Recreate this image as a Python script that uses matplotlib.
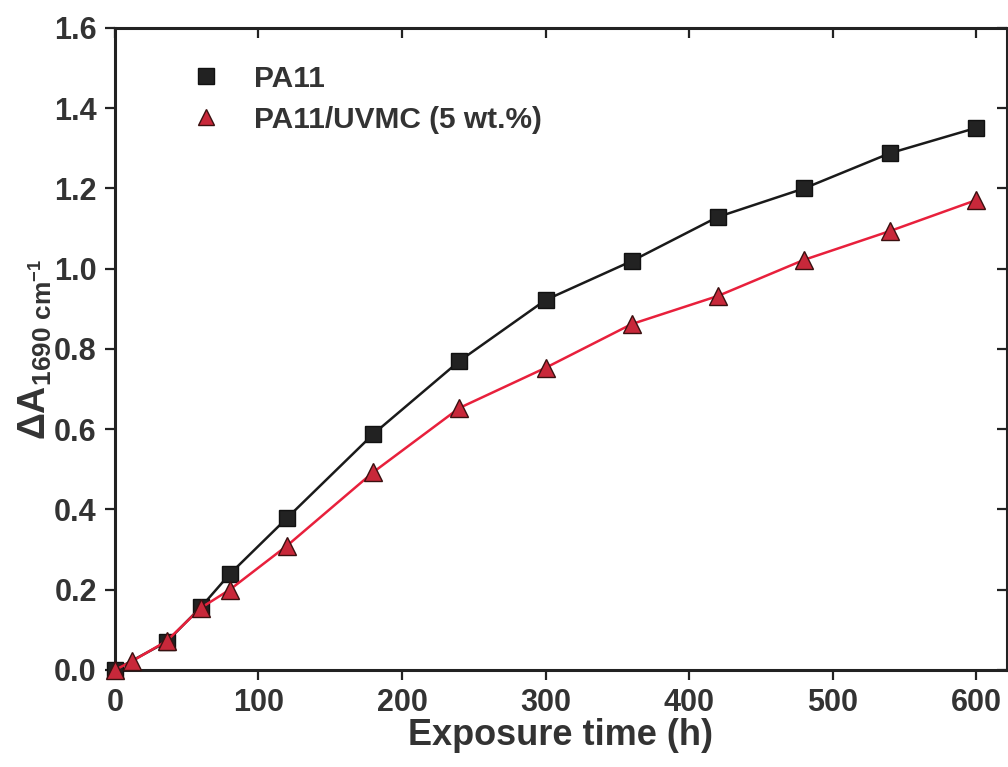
import matplotlib
matplotlib.use("Agg")
import matplotlib.pyplot as plt
from matplotlib.lines import Line2D

plt.rcParams['font.family'] = ['Liberation Sans', 'DejaVu Sans']
plt.rcParams['font.weight'] = 'bold'
plt.rcParams['axes.labelweight'] = 'bold'
plt.rcParams['mathtext.fontset'] = 'custom'
plt.rcParams['mathtext.rm'] = 'Liberation Sans:bold'
plt.rcParams['mathtext.it'] = 'Liberation Sans:bold'
plt.rcParams['mathtext.bf'] = 'Liberation Sans:bold'

# exposure times (h) and absorbance change at 1690 cm-1
time_pa11 = [0, 36, 60, 80, 120, 180, 240, 300, 360, 420, 480, 540, 600]
dA_pa11 = [0.0, 0.07, 0.157, 0.239, 0.379, 0.588, 0.77, 0.922, 1.019, 1.129, 1.20, 1.288, 1.351]

time_uvmc = [0, 12, 36, 60, 80, 120, 180, 240, 300, 360, 420, 480, 540, 600]
dA_uvmc = [0.0, 0.022, 0.072, 0.155, 0.20, 0.31, 0.493, 0.653, 0.753, 0.862, 0.932, 1.022, 1.094, 1.171]

xticks = [0, 100, 200, 300, 400, 500, 600]
yticks = [0.0, 0.2, 0.4, 0.6, 0.8, 1.0, 1.2, 1.4, 1.6]

fig = plt.figure(figsize=(10.08, 7.67), dpi=100)
ax = fig.add_axes([0.114, 0.1265, 0.885, 0.837])

ax.plot(time_pa11, dA_pa11, color='#1a1a1a', lw=1.8, marker='s', ms=11.5,
        mfc='#222222', mec='#111111', clip_on=False, zorder=3)
ax.plot(time_uvmc, dA_uvmc, color='#e8203c', lw=1.8, marker='^', ms=12.5,
        mfc='#c8283a', mec='#3a1010', mew=1.0, clip_on=False, zorder=4)

ax.set_xlim(0, 621.5)
ax.set_ylim(0, 1.6)
ax.set_xticks(xticks)
ax.set_yticks(yticks)
ax.set_yticklabels([f"{v:.1f}" for v in yticks])

for s in ax.spines.values():
    s.set_linewidth(2.2)
    s.set_color('#222222')

ax.tick_params(axis='both', which='major', labelsize=22, labelcolor='#333333',
               width=1.6, length=7, color='#222222', direction='out', pad=6)
ax.tick_params(top=True, right=True)
for t in ax.xaxis.get_major_ticks():
    t.tick2line.set_marker(3)
for t in ax.yaxis.get_major_ticks():
    t.tick2line.set_marker(0)

ax.set_xlabel('Exposure time (h)', fontsize=26, color='#333333', labelpad=0)
ax.set_ylabel(r'$\Delta \mathrm{A}_{1690\ \mathrm{cm}^{-1}}$', fontsize=27,
              color='#333333', labelpad=0)

handles = [
    Line2D([], [], ls='none', marker='s', ms=11, mfc='#222222', mec='#111111'),
    Line2D([], [], ls='none', marker='^', ms=12, mfc='#c8283a', mec='#3a1010'),
]
leg = ax.legend(handles, ['PA11', 'PA11/UVMC (5 wt.%)'], loc='upper left',
                bbox_to_anchor=(0.055, 0.985), frameon=False, fontsize=21.5,
                handletextpad=1.1, labelspacing=0.45, handlelength=1.0)
for txt in leg.get_texts():
    txt.set_color('#333333')

fig.savefig('out.png', dpi=100)
